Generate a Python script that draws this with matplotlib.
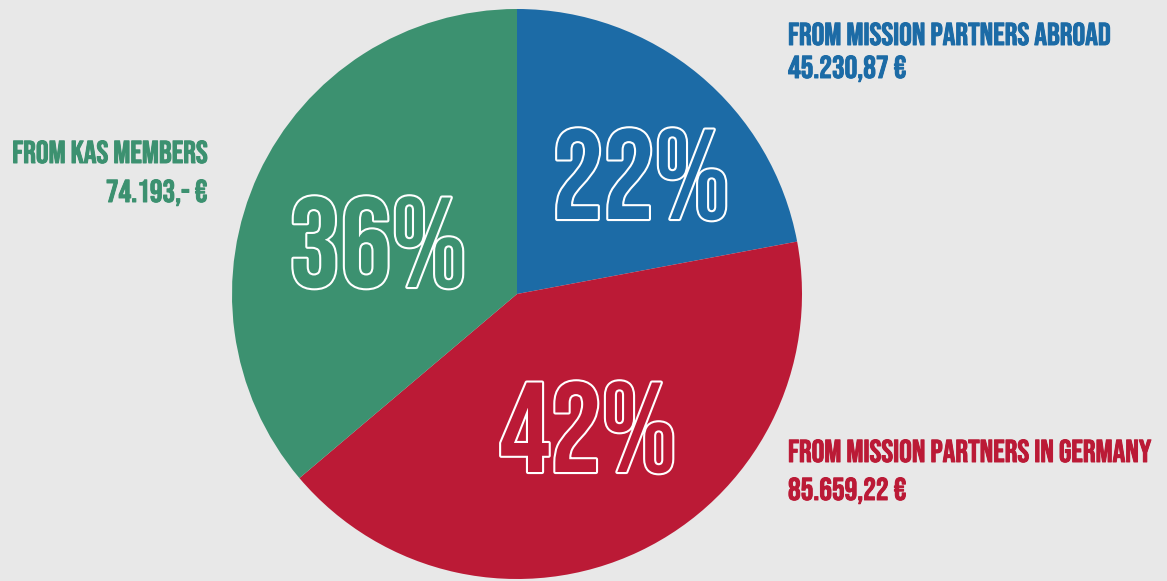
import matplotlib.pyplot as plt
import matplotlib.patheffects as pe

labels = ["FROM MISSION PARTNERS ABROAD", "FROM MISSION PARTNERS IN GERMANY", "FROM KAS MEMBERS"]
amounts = [45230.87, 85659.22, 74193.00]
amount_texts = ["45.230,87 €", "85.659,22 €", "74.193,- €"]
percent_texts = ["22%", "42%", "36%"]
colors = ["#1c6ba6", "#bb1a36", "#3c9170"]
bg = "#e8e8e8"

plt.rcParams['font.family'] = ['Bebas Neue', 'Oswald', 'DejaVu Sans']

W, H = 1167, 581
fig = plt.figure(figsize=(W / 100, H / 100), dpi=100, facecolor=bg)
ax = fig.add_axes([0, 0, 1, 1])
ax.set_facecolor(bg)

# pie in pixel-like data coords (y measured from the bottom)
cx, cy, r = 517, 294, 285
ax.pie(amounts, colors=colors, startangle=90, counterclock=False,
       center=(cx, H - cy), radius=r, frame=True, wedgeprops=dict(linewidth=0))
ax.set_xlim(0, W)
ax.set_ylim(0, H)
ax.set_aspect('auto')
ax.axis('off')

outline = [pe.Stroke(linewidth=3, foreground='white'), pe.Normal()]
pct_pos = [(641, 219), (588, 472), (378, 287)]
for (x, y), t, c in zip(pct_pos, percent_texts, colors):
    ax.text(x, H - y, t, ha='center', va='baseline', fontsize=92,
            color=c, path_effects=outline, zorder=5)

fs = 22.8


def label(x, y, s, c, ha):
    ax.text(x, H - y, s, color=c, ha=ha, va='baseline', fontsize=fs,
            path_effects=[pe.withStroke(linewidth=0.7, foreground=c)])


label(788, 45, labels[0], colors[0], 'left')
label(788, 78, amount_texts[0], colors[0], 'left')
label(788, 462, labels[1], colors[1], 'left')
label(788, 500, amount_texts[1], colors[1], 'left')
label(207, 163, labels[2], colors[2], 'right')
label(207, 202, amount_texts[2], colors[2], 'right')

fig.savefig('out.png', dpi=100, facecolor=bg)
